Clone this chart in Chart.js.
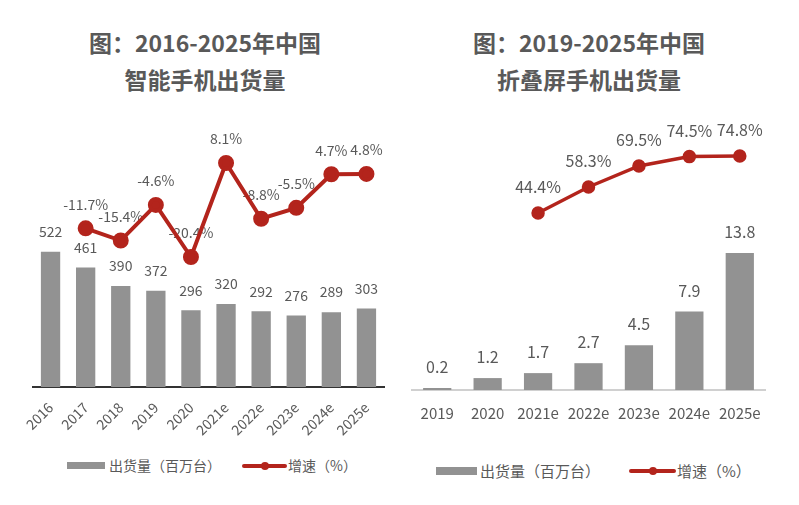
<!DOCTYPE html>
<html>
<head>
<meta charset="utf-8">
<script src="https://cdn.jsdelivr.net/npm/chart.js"></script>
<style>
  body { margin: 0; background: #fff; font-family: "Noto Sans CJK SC", "Noto Sans", sans-serif; }
  #wrap { position: relative; width: 799px; height: 505px; overflow: hidden; }
  canvas { position: absolute; }
  .title { position: absolute; text-align: center; color: #595959; font-weight: bold; font-size: 23px; line-height: 37px; }
  .leg { position: absolute; color: #595959; white-space: nowrap; }
  .box { position: absolute; background: #929292; }
  .ln { position: absolute; background: #b3241c; border-radius: 2px; }
  .dot { position: absolute; background: #b3241c; border-radius: 50%; }
</style>
</head>
<body>
<div id="wrap">
  <div class="title" style="left:40px; top:24px; width:330px;">图：2016-2025年中国<br>智能手机出货量</div>
  <div class="title" style="left:424px; top:24px; width:330px;">图：2019-2025年中国<br>折叠屏手机出货量</div>

  <canvas id="phoneChart" width="400" height="340" style="left:0; top:100px;"></canvas>
  <canvas id="foldChart" width="399" height="340" style="left:400px; top:100px;"></canvas>

  <!-- 图例 -->
  <div class="box" style="left:67px; top:462px; width:38px; height:7px;"></div>
  <div class="leg" style="left:109px; top:455px; font-size:14px; line-height:20px;">出货量（百万台）</div>
  <div class="ln" style="left:242px; top:464px; width:45px; height:4px;"></div>
  <div class="dot" style="left:261px; top:462px; width:8px; height:8px;"></div>
  <div class="leg" style="left:288px; top:455px; font-size:14px; line-height:20px;">增速（%）</div>

  <div class="box" style="left:436px; top:467px; width:41px; height:8px;"></div>
  <div class="leg" style="left:480px; top:460px; font-size:15px; line-height:22px;">出货量（百万台）</div>
  <div class="ln" style="left:629px; top:469px; width:47px; height:4px;"></div>
  <div class="dot" style="left:649px; top:467px; width:8px; height:8px;"></div>
  <div class="leg" style="left:677px; top:460px; font-size:15px; line-height:22px;">增速（%）</div>
</div>

<script>
// 智能手机
const phoneYears = ['2016', '2017', '2018', '2019', '2020', '2021e', '2022e', '2023e', '2024e', '2025e'];
const phoneShipments = [522, 461, 390, 372, 296, 320, 292, 276, 289, 303];
const phoneGrowth = [null, -11.7, -15.4, -4.6, -20.4, 8.1, -8.8, -5.5, 4.7, 4.8];

// 折叠屏手机
const foldYears = ['2019', '2020', '2021e', '2022e', '2023e', '2024e', '2025e'];
const foldShipments = [0.2, 1.2, 1.7, 2.7, 4.5, 7.9, 13.8];
const foldGrowth = [null, null, 44.4, 58.3, 69.5, 74.5, 74.8];

const GRAY = '#929292';
const RED = '#b3241c';
const TEXT = '#595959';

// 数值标签 (画在线条下面, 跟原图一样被线遮住一点)
const valueLabels = {
    id: 'valueLabels',
    beforeDatasetsDraw(chart, args, opts) {
        const ctx = chart.ctx;
        ctx.save();
        ctx.fillStyle = TEXT;
        ctx.textAlign = 'center';
        ctx.textBaseline = 'middle';
        ctx.font = opts.fontSize + 'px "Noto Sans CJK SC", "Noto Sans", sans-serif';
        chart.data.datasets.forEach((ds, i) => {
            const meta = chart.getDatasetMeta(i);
            meta.data.forEach((el, j) => {
                const v = ds.data[j];
                if (v == null) return;
                if (ds.type === 'line') {
                    ctx.fillText(v.toFixed(1) + '%', el.x, el.y - opts.lineOffset);
                } else {
                    ctx.fillText(String(v), el.x, el.y - opts.barOffset);
                }
            });
        });
        ctx.restore();
    }
};

function makeChart(id, cfg) {
    return new Chart(document.getElementById(id).getContext('2d'), {
        data: {
            labels: cfg.labels,
            datasets: [{
                type: 'line',
                data: cfg.growth,
                yAxisID: 'y2',
                borderColor: RED,
                backgroundColor: RED,
                borderWidth: cfg.lineWidth,
                pointRadius: cfg.pointRadius,
                pointBackgroundColor: RED,
                pointBorderColor: RED,
                tension: 0,
                clip: false,
                order: 0
            }, {
                type: 'bar',
                data: cfg.shipments,
                yAxisID: 'y',
                backgroundColor: GRAY,
                barPercentage: cfg.barPct,
                categoryPercentage: 1,
                order: 1
            }]
        },
        options: {
            responsive: false,
            animation: false,
            devicePixelRatio: 1,
            layout: { padding: cfg.padding, autoPadding: false },
            plugins: {
                legend: { display: false },
                tooltip: { enabled: false },
                valueLabels: cfg.labelOpts
            },
            scales: {
                x: {
                    offset: true,
                    grid: { display: false },
                    border: { display: true, color: cfg.axisColor, width: 2 },
                    ticks: {
                        color: TEXT,
                        font: { size: cfg.tickSize, family: '"Noto Sans CJK SC", "Noto Sans", sans-serif' },
                        minRotation: cfg.rotation,
                        maxRotation: cfg.rotation,
                        padding: cfg.tickPad,
                        autoSkip: false
                    },
                    afterFit: s => { s.height = cfg.xHeight; }
                },
                y: { display: false, min: 0, max: cfg.barMax },
                y2: { display: false, min: cfg.lineMin, max: cfg.lineMax }
            }
        },
        plugins: [valueLabels]
    });
}

makeChart('phoneChart', {
    labels: phoneYears,
    shipments: phoneShipments,
    growth: phoneGrowth,
    lineWidth: 4,
    pointRadius: 6,
    barPct: 0.55,
    padding: { left: 33, right: 16, top: 0, bottom: 0 },
    axisColor: '#333333',
    tickSize: 14,
    rotation: 45,
    tickPad: 4,
    xHeight: 53,
    barMax: 1108,
    lineMin: -59.8,
    lineMax: 27.2,
    labelOpts: { fontSize: 14, barOffset: 20, lineOffset: 24 }
});

makeChart('foldChart', {
    labels: foldYears,
    shipments: foldShipments,
    growth: foldGrowth,
    lineWidth: 3.5,
    pointRadius: 5,
    barPct: 0.56,
    padding: { left: 12, right: 34, top: 0, bottom: 0 },
    axisColor: '#d0d0d0',
    tickSize: 15,
    rotation: 0,
    tickPad: 6,
    xHeight: 50,
    barMax: 29.2,
    lineMin: -50,
    lineMax: 104.7,
    labelOpts: { fontSize: 16, barOffset: 21, lineOffset: 26 }
});
</script>
</body>
</html>
